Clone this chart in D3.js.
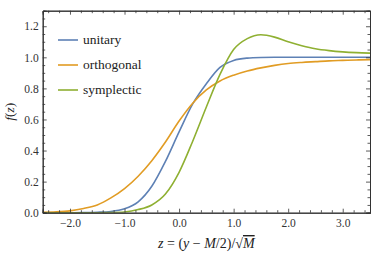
<!DOCTYPE html>
<html>
<head>
<meta charset="utf-8">
<script src="https://cdn.jsdelivr.net/npm/d3@7"></script>
<style>
  body { margin: 0; background: white; }
  svg { display: block; }
</style>
</head>
<body>
<div id="chart-container"></div>
<script>
// z values the curves were read at
var zValues = [-2.5, -2.25, -2.0, -1.75, -1.5, -1.25, -1.0, -0.75, -0.5, -0.25, 0.0, 0.25, 0.5, 0.75,
  1.0, 1.25, 1.5, 1.75, 2.0, 2.25, 2.5, 2.75, 3.0, 3.25, 3.5];

// f(z)
var unitary = [0, 0, 0, 0.001, 0.003, 0.008, 0.025, 0.07, 0.17, 0.33, 0.52, 0.70, 0.83, 0.935,
  0.98, 0.995, 0.999, 1.0, 1.0, 1.0, 1.0, 1.0, 1.0, 1.0, 1.0];
var orthogonal = [0.002, 0.005, 0.012, 0.027, 0.05, 0.095, 0.155, 0.235, 0.335, 0.455, 0.59, 0.705, 0.79, 0.848,
  0.885, 0.912, 0.932, 0.948, 0.96, 0.967, 0.972, 0.977, 0.98, 0.983, 0.985];
var symplectic = [0, 0, 0, 0, 0, 0.001, 0.005, 0.02, 0.05, 0.12, 0.26, 0.46, 0.68, 0.89,
  1.05, 1.12, 1.145, 1.13, 1.10, 1.075, 1.055, 1.043, 1.035, 1.03, 1.027];

var seriesNames = ["unitary", "orthogonal", "symplectic"];
var seriesColors = ["#5E81B5", "#E19C24", "#8FB032"];

var xMajorTicks = [-2.0, -1.0, 0.0, 1.0, 2.0, 3.0];
var yMajorTicks = [0.0, 0.2, 0.4, 0.6, 0.8, 1.0, 1.2];

var fontName = "Liberation Serif";

// Dimensions of the picture and the frame
var width = 373, height = 258;
var margin = { top: 10.7, right: 3, bottom: 45.3, left: 42.7 };

var svg = d3.select("#chart-container")
  .append("svg")
  .attr("width", width)
  .attr("height", height);

var x = d3.scaleLinear().domain([-2.5, 3.5]).range([margin.left, width - margin.right]);
var y = d3.scaleLinear().domain([0, 1.3]).range([height - margin.bottom, margin.top]);

// Clip path so the curves stay inside the frame
svg.append("clipPath")
  .attr("id", "plot-clip")
  .append("rect")
  .attr("x", x.range()[0])
  .attr("y", y.range()[1])
  .attr("width", x.range()[1] - x.range()[0])
  .attr("height", y.range()[0] - y.range()[1]);

// Curves
var line = d3.line()
  .x(function (d) { return x(d[0]); })
  .y(function (d) { return y(d[1]); })
  .curve(d3.curveMonotoneX);

[unitary, orthogonal, symplectic].forEach(function (values, i) {
  svg.append("path")
    .datum(zValues.map(function (z, j) { return [z, values[j]]; }))
    .attr("clip-path", "url(#plot-clip)")
    .attr("d", line)
    .attr("fill", "none")
    .attr("stroke", seriesColors[i])
    .attr("stroke-width", 1.6);
});

// Frame ticks: minor every 0.2 on x and 0.05 on y, ticks point inward
var xMinor = d3.range(-2.4, 3.5, 0.2).filter(function (v) {
  return !xMajorTicks.some(function (t) { return Math.abs(t - v) < 1e-6; });
});
var yMinor = d3.range(0.05, 1.3, 0.05).filter(function (v) {
  return !yMajorTicks.some(function (t) { return Math.abs(t - v) < 1e-6; });
});

function frameAxis(axisFn, scale, ticks, size, showLabels) {
  return axisFn(scale)
    .tickValues(ticks)
    .tickSize(size)
    .tickPadding(showLabels ? 4 : 0)
    .tickFormat(showLabels ? d3.format(".1f") : "");
}

var axisColor = "#333";
var bottomY = y.range()[0], topY = y.range()[1];
var leftX = x.range()[0], rightX = x.range()[1];

// bottom axis with labels
var gBottom = svg.append("g").attr("transform", "translate(0," + bottomY + ")");
gBottom.call(frameAxis(d3.axisBottom, x, xMajorTicks, -4, true));
gBottom.append("g").call(frameAxis(d3.axisBottom, x, xMinor, -2.5, false));
// top axis
var gTop = svg.append("g").attr("transform", "translate(0," + topY + ")");
gTop.call(frameAxis(d3.axisTop, x, xMajorTicks, -4, false));
gTop.append("g").call(frameAxis(d3.axisTop, x, xMinor, -2.5, false));
// left axis with labels
var gLeft = svg.append("g").attr("transform", "translate(" + leftX + ",0)");
gLeft.call(frameAxis(d3.axisLeft, y, yMajorTicks, -4, true));
gLeft.append("g").call(frameAxis(d3.axisLeft, y, yMinor, -2.5, false));
// right axis
var gRight = svg.append("g").attr("transform", "translate(" + rightX + ",0)");
gRight.call(frameAxis(d3.axisRight, y, yMajorTicks, -4, false));
gRight.append("g").call(frameAxis(d3.axisRight, y, yMinor, -2.5, false));

svg.selectAll(".domain").attr("stroke", axisColor).attr("stroke-width", 1);
svg.selectAll(".tick line").attr("stroke", axisColor).attr("stroke-width", 0.8);
svg.selectAll(".tick text")
  .attr("fill", "#333")
  .attr("font-family", fontName)
  .attr("font-size", 11.5)
  .text(function () {
    // use a real minus sign like the reference
    return d3.select(this).text().replace("-", "\u2212");
  });
gBottom.selectAll(".tick text").attr("dy", "0.9em");

// Legend
var legend = svg.append("g");
seriesNames.forEach(function (name, i) {
  var ly = 40 + i * 25;
  legend.append("line")
    .attr("x1", 58).attr("x2", 78)
    .attr("y1", ly).attr("y2", ly)
    .attr("stroke", seriesColors[i])
    .attr("stroke-width", 1.6);
  legend.append("text")
    .attr("x", 83)
    .attr("y", ly)
    .attr("dy", "0.32em")
    .attr("font-family", fontName)
    .attr("font-size", 13.5)
    .attr("fill", "#222")
    .text(name);
});

// Y axis title f(z)
var yTitle = svg.append("text")
  .attr("transform", "translate(14," + ((topY + bottomY) / 2) + ") rotate(-90)")
  .attr("text-anchor", "middle")
  .attr("font-family", fontName)
  .attr("font-size", 13.5)
  .attr("fill", "#222");
yTitle.append("tspan").attr("font-style", "italic").text("f");
yTitle.append("tspan").text("(");
yTitle.append("tspan").attr("font-style", "italic").text("z");
yTitle.append("tspan").text(")");

// X axis title z = (y − M/2)/√M
var xTitle = svg.append("text")
  .attr("x", (leftX + rightX) / 2)
  .attr("y", 248)
  .attr("text-anchor", "middle")
  .attr("font-family", fontName)
  .attr("font-size", 14)
  .attr("fill", "#222");
xTitle.append("tspan").attr("font-style", "italic").text("z");
xTitle.append("tspan").text(" = (");
xTitle.append("tspan").attr("font-style", "italic").text("y");
xTitle.append("tspan").text(" \u2212 ");
xTitle.append("tspan").attr("font-style", "italic").text("M");
xTitle.append("tspan").text("/2)/\u221A");
xTitle.append("tspan")
  .attr("font-style", "italic")
  .attr("text-decoration", "overline")
  .text("M");
</script>
</body>
</html>
